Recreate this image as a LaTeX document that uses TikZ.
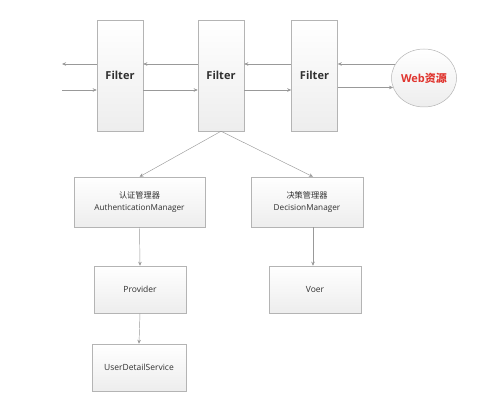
\documentclass[tikz,border=0pt]{standalone}
\usepackage{fontspec}
\setmainfont{Open Sans}
\newfontfamily\cjk{Noto Sans CJK SC}
\usetikzlibrary{arrows.meta,shapes.geometric}
\definecolor{txtgray}{HTML}{303030}
\definecolor{boxline}{HTML}{B4B4B4}
\definecolor{webred}{HTML}{E0352F}
\begin{document}
\begin{tikzpicture}[x=1pt,y=-1pt,
  box/.style={draw=boxline, line width=0.5pt, top color=white, bottom color=gray!14, text=txtgray, align=center, inner sep=0pt},
  filterbox/.style={box, minimum width=46pt, minimum height=111pt, font=\bfseries\fontsize{11}{13}\selectfont},
  mgrbox/.style={box, minimum height=50pt, font=\fontsize{8.2}{12}\selectfont},
  leafbox/.style={box, minimum width=92pt, minimum height=47pt, font=\fontsize{8.5}{11}\selectfont},
  arr/.style={draw=gray!80, line width=0.45pt, -{Stealth[length=4pt,width=3.5pt]}}]
\useasboundingbox (0,0) rectangle (495,409);
\node[filterbox] (f1) at (120,75.5){Filter};
\node[filterbox] (f2) at (221,75.5){Filter};
\node[filterbox] (f3) at (314.5,75.5){Filter};
\node[ellipse, draw=boxline, line width=0.5pt, top color=white, bottom color=gray!14, minimum width=65pt, minimum height=58pt, inner sep=0pt, text=webred, font=\bfseries\fontsize{11}{13}\selectfont] (web) at (424,78){Web{\cjk 资源}};
\coordinate (outl) at (62,64);
\coordinate (inl) at (62,90);
\draw[arr] (f1.west|-outl) -- (outl);
\draw[arr] (inl) -- (f1.west|-inl);
\draw[arr] (f2.west|-outl) -- (f1.east|-outl);
\draw[arr] (f1.east|-inl) -- (f2.west|-inl);
\draw[arr] (f3.west|-outl) -- (f2.east|-outl);
\draw[arr] (f2.east|-inl) -- (f3.west|-inl);
\draw[arr] (web.154) -- (f3.east|-web.154);
\draw[arr] (f3.east|-web.197) -- (web.197);
\node[mgrbox, minimum width=131pt] (auth) at (139.5,202){{\cjk 认证管理器}\\AuthenticationManager};
\node[mgrbox, minimum width=112pt] (decision) at (307,202){{\cjk 决策管理器}\\DecisionManager};
\node[leafbox] (provider) at (140,289.5){Provider};
\node[leafbox] (voer) at (315,289.5){Voer};
\node[leafbox, minimum width=94pt] (uds) at (139,367.5){UserDetailService};
\draw[arr] (f2.south) -- (auth.north);
\draw[arr] (f2.south) -- ([xshift=6pt]decision.north);
\draw[arr] (auth.south) -- (provider.north);
\draw[arr] ([xshift=6pt]decision.south) -- ([xshift=-2pt]voer.north);
\draw[arr] (provider.south) -- (uds.north);
\end{tikzpicture}
\end{document}
